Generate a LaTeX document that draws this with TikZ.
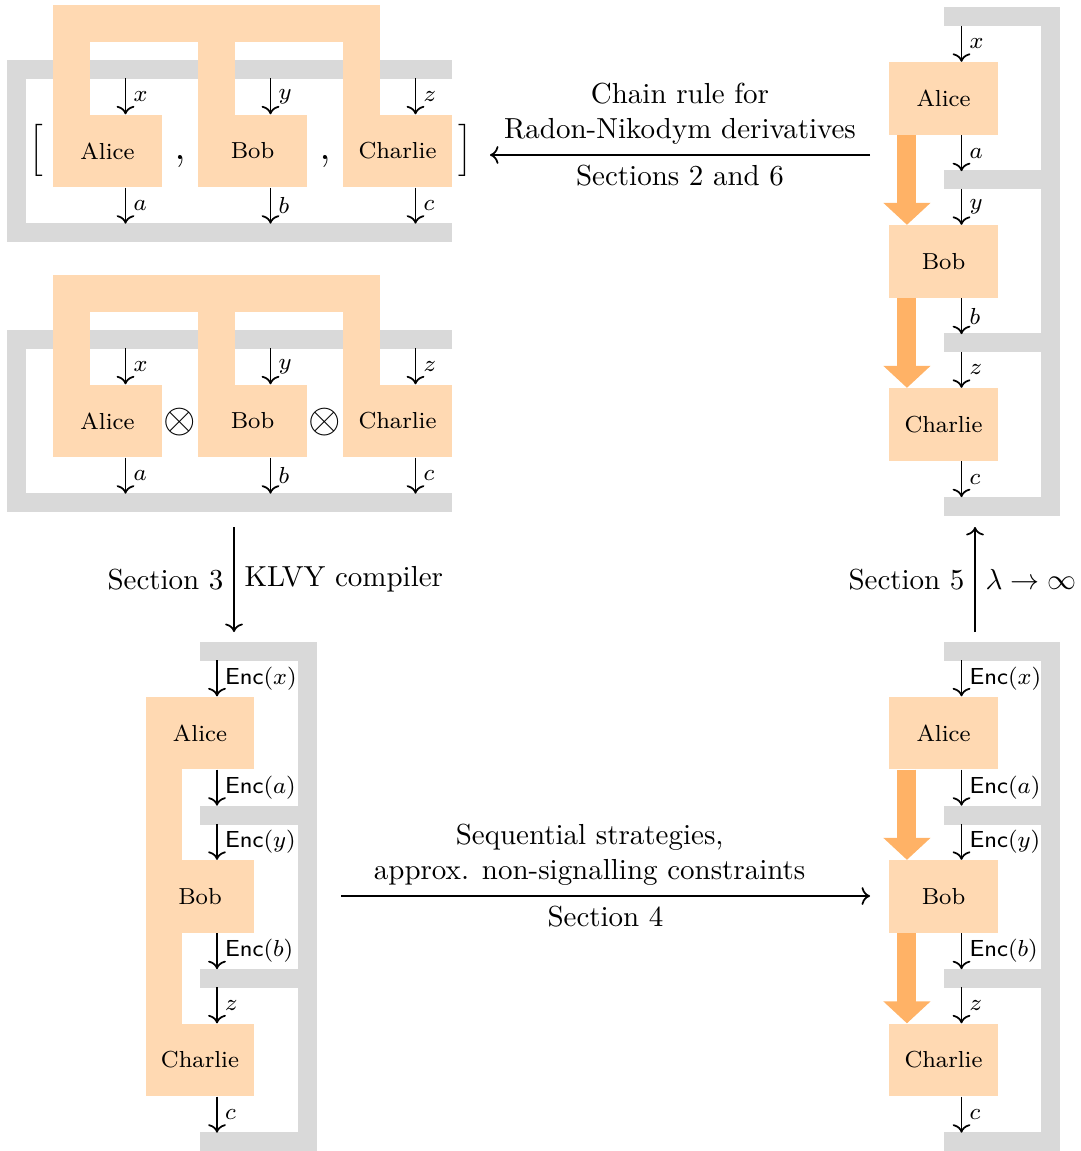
\documentclass[tikz,border=0pt]{standalone}
\usepackage{amssymb}
\usepackage{amsmath}
\usepackage{tikz}
\usetikzlibrary{%
	arrows.meta,%
	calc,%
	positioning
}

\colorlet{boxfill}{orange!30}
\colorlet{flowfill}{orange!60}
\colorlet{combgray}{black!15}
\newcommand{\enc}[1]{\textsf{Enc}$(#1)$}
\newcommand{\bigsep}{\fontsize{15.4}{18}\selectfont}
\newcommand{\midbrack}[1]{$\left#1\vcenter to 16pt{}\right.$}

\tikzset{
	agent/.style={fill=boxfill, minimum width=37.6pt, minimum height=24.9pt, inner sep=0pt, font=\footnotesize},
	comb/.style={draw=combgray, line width=6.55pt, line join=miter},
	tie/.style={draw=boxfill, line width=12.77pt, line join=miter},
	wire/.style={->, semithick},
	wlabel/.style={right, font=\footnotesize, inner sep=2.5pt},
	flow/.style={draw=flowfill, line width=6.55pt, -{Triangle[width=15.9pt,length=7.6pt]}},
	bigmap/.style={->, semithick},
}

\begin{document}
\begin{tikzpicture}[x=0.345pt, y=-0.345pt]
		\useasboundingbox (0,0) rectangle (1080,1151);
		% left column: parallel strategies
		\foreach \dy/\op/\oy in {0/{$,$}/162, 270/{$\otimes$}/152}{
			\begin{scope}[shift={(0,\dy)}]
				\draw [comb] (452,69.5)--(16.5,69.5)--(16.5,232.5)--(452,232.5);
				\draw [tie] (71.5,115)--(71.5,23.5)--(361.5,23.5)--(361.5,115);
				\draw [tie] (216.5,23.5)--(216.5,115);
				\foreach \n/\xc/\inp/\outp in {Alice/107.5/x/a, Bob/252.5/y/b, Charlie/397.5/z/c}{
					\node [agent] (\n\dy) at (\xc,151) {\n};
					\draw [wire] ($(\n\dy.north)+(18,-36)$) -- ($(\n\dy.north)+(18,0)$) node [wlabel, midway] {$\inp$};
					\draw [wire] ($(\n\dy.south)+(18,0)$) -- ($(\n\dy.south)+(18,36)$) node [wlabel, midway] {$\outp$};
				}
				\node (opa\dy) [font=\bigsep] at (180,\oy) {\op};
				\node (opb\dy) [font=\bigsep] at (325,\oy) {\op};
			\end{scope}
		}
		\node (lbr) at (38,150) {\midbrack{[}};
		\node (rbr) at (467,150) {\midbrack{]}};
		
		% right column: sequential strategies
		\begin{scope}
			\draw [comb] (944,16.5)--(1050,16.5)--(1050,506.5)--(944,506.5);
			\draw [comb] (944,179.5)--(1050,179.5);
			\draw [comb] (944,342.5)--(1050,342.5);
			\foreach \n/\yc/\inp/\outp in {Alice/98.5/{$x$}/{$a$}, Bob/261.5/{$y$}/{$b$}, Charlie/424.5/{$z$}/{$c$}}{
				\node [agent] (r\n) at (943.5,\yc) {\n};
				\draw [wire] ($(r\n.north)+(18,-36)$) -- ($(r\n.north)+(18,0)$) node [wlabel, midway] {\inp};
				\draw [wire] ($(r\n.south)+(18,0)$) -- ($(r\n.south)+(18,36)$) node [wlabel, midway] {\outp};
			}
			\draw [flow] ($(rAlice.south west)+(18.5,0)$) -- ($(rBob.north west)+(18.5,0)$);
			\draw [flow] ($(rBob.south west)+(18.5,0)$) -- ($(rCharlie.north west)+(18.5,0)$);
		\end{scope}
		\begin{scope}
			\draw [comb] (944,651.5)--(1050,651.5)--(1050,1141)--(944,1141);
			\draw [comb] (944,815)--(1050,815);
			\draw [comb] (944,978.5)--(1050,978.5);
			\foreach \n/\yc/\inp/\outp in {Alice/733/{\enc{x}}/{\enc{a}}, Bob/896.5/{\enc{y}}/{\enc{b}}, Charlie/1060/{$z$}/{$c$}}{
				\node [agent] (s\n) at (943.5,\yc) {\n};
				\draw [wire] ($(s\n.north)+(18,-36)$) -- ($(s\n.north)+(18,0)$) node [wlabel, midway] {\inp};
				\draw [wire] ($(s\n.south)+(18,0)$) -- ($(s\n.south)+(18,36)$) node [wlabel, midway] {\outp};
			}
			\draw [flow] ($(sAlice.south west)+(18.5,0)$) -- ($(sBob.north west)+(18.5,0)$);
			\draw [flow] ($(sBob.south west)+(18.5,0)$) -- ($(sCharlie.north west)+(18.5,0)$);
		\end{scope}
		
		% bottom left: compiled strategy
		\begin{scope}
			\draw [comb] (200,651.5)--(307.5,651.5)--(307.5,1141)--(200,1141);
			\draw [comb] (200,815)--(307.5,815);
			\draw [comb] (200,978.5)--(307.5,978.5);
			\fill [boxfill] (145.5,733) rectangle (182,1060);
			\foreach \n/\yc/\inp/\outp in {Alice/733/{\enc{x}}/{\enc{a}}, Bob/896.5/{\enc{y}}/{\enc{b}}, Charlie/1060/{$z$}/{$c$}}{
				\node [agent] (k\n) at (200,\yc) {\n};
				\draw [wire] ($(k\n.north)+(17,-36)$) -- ($(k\n.north)+(17,0)$) node [wlabel, midway] {\inp};
				\draw [wire] ($(k\n.south)+(17,0)$) -- ($(k\n.south)+(17,36)$) node [wlabel, midway] {\outp};
			}
		\end{scope}
		
		% maps between the pictures
		\coordinate (chainS) at (870,155);
		\coordinate (chainE) at (490,155);
		\draw [bigmap] (chainS) -- (chainE)
			node (chainT) [midway, above, align=center] {Chain rule for\\Radon-Nikodym derivatives}
			node (chainB) [midway, below] {Sections 2 and 6};
		\coordinate (klvyS) at (234,527);
		\coordinate (klvyE) at (234,632);
		\draw [bigmap] (klvyS) -- (klvyE)
			node (klvyL) [midway, left] {Section 3}
			node (klvyR) [midway, right] {KLVY compiler};
		\coordinate (seqS) at (341,896);
		\coordinate (seqE) at (870,896);
		\draw [bigmap] (seqS) -- (seqE)
			node (seqT) [pos=0.47, above, align=center] {Sequential strategies,\\approx. non-signalling constraints}
			node (seqB) [midway, below] {Section 4};
		\coordinate (limS) at (975,632);
		\coordinate (limE) at (975,527);
		\draw [bigmap] (limS) -- (limE)
			node (limL) [midway, left] {Section 5}
			node (limR) [midway, right] {$\lambda\to\infty$};
	\end{tikzpicture}
\end{document}
